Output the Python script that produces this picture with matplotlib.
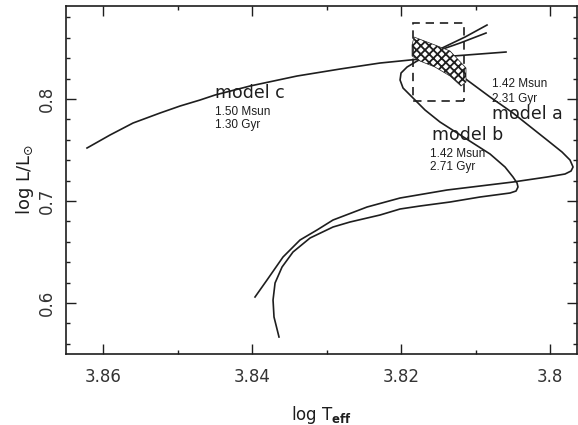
import matplotlib
matplotlib.use("Agg")
import matplotlib.pyplot as plt
from matplotlib.ticker import MultipleLocator
from matplotlib.patches import Polygon, Rectangle

# ---- data (log Teff, log L/Lsun) ----
model_a_logT = [3.83960, 3.83799, 3.83584, 3.83356, 3.83128, 3.82913, 3.82456, 3.82013, 3.81383,
                3.80497, 3.80040, 3.79799, 3.79718, 3.79691, 3.79732, 3.79839, 3.80040,
                3.80497, 3.80805, 3.81168, 3.81409, 3.81584, 3.81638, 3.81597, 3.81477,
                3.81208, 3.80859]
model_a_logL = [0.60588, 0.62255, 0.64510, 0.66176, 0.67157, 0.68137, 0.69412, 0.70294, 0.71078,
                0.71863, 0.72353, 0.72647, 0.72941, 0.73333, 0.74020, 0.74804, 0.75980,
                0.78627, 0.80196, 0.82157, 0.83333, 0.84118, 0.84412, 0.84608, 0.84804,
                0.85490, 0.86471]

model_b_logT = [3.83638, 3.83705, 3.83718, 3.83691, 3.83597, 3.83450, 3.83221, 3.82913,
                3.82685, 3.82282, 3.82013, 3.81745, 3.81342, 3.80940, 3.80537, 3.80456,
                3.80430, 3.80443, 3.80497, 3.80604, 3.80805, 3.81141, 3.81477, 3.81678,
                3.81879, 3.81973, 3.82013, 3.82000, 3.81919, 3.81785, 3.81477, 3.81141,
                3.80846]
model_b_logL = [0.56667, 0.58627, 0.60294, 0.61961, 0.63529, 0.65000, 0.66373, 0.67451,
                0.67941, 0.68627, 0.69216, 0.69510, 0.69902, 0.70392, 0.70784, 0.70980,
                0.71373, 0.71765, 0.72353, 0.73333, 0.74608, 0.76176, 0.77745, 0.78922,
                0.80392, 0.81078, 0.81863, 0.82549, 0.83137, 0.83725, 0.84902, 0.86078,
                0.87255]

model_c_logT = [3.86215, 3.85906, 3.85597, 3.85235, 3.84966, 3.84698, 3.84497, 3.84027,
                3.83396, 3.82819, 3.82282, 3.81477, 3.80591]
model_c_logL = [0.75196, 0.76471, 0.77647, 0.78627, 0.79314, 0.79902, 0.80392, 0.81275,
                0.82255, 0.82941, 0.83529, 0.84118, 0.84608]

# observational error region (hatched) and error box
region_logT = [3.81826, 3.81544, 3.81342, 3.81128, 3.81128, 3.81195, 3.81342, 3.81544,
               3.81745, 3.81852, 3.81852]
region_logL = [0.86078, 0.85294, 0.84706, 0.83039, 0.81667, 0.81275, 0.82255, 0.83137,
               0.83725, 0.84216, 0.85294]
box_logT = [3.8116, 3.8184]
box_logL = [0.798, 0.8745]

labels = [
    ("model c", 3.84497, 0.8059, 12.5), ("1.50 Msun", 3.84497, 0.7873, 8.5), ("1.30 Gyr", 3.84497, 0.7745, 8.5),
    ("model b", 3.81584, 0.7647, 12.5), ("1.42 Msun", 3.81611, 0.7461, 8.5), ("2.71 Gyr", 3.81611, 0.7333, 8.5),
    ("model a", 3.80779, 0.7850, 12.5), ("1.42 Msun", 3.80779, 0.8147, 8.5), ("2.31 Gyr", 3.80779, 0.8005, 8.5),
]

xticks = [3.86, 3.84, 3.82, 3.80]
xtick_labels = ["3.86", "3.84", "3.82", "3.8"]
yticks = [0.6, 0.7, 0.8]
ytick_labels = ["0.6", "0.7", "0.8"]

# ---- figure ----
ink = "#1e1e1e"
fig = plt.figure(figsize=(5.78, 4.25), dpi=100)
ax = fig.add_axes([66 / 578, 1 - 354 / 425, (577 - 66) / 578, (354 - 6) / 425])

for xs, ys in [(model_a_logT, model_a_logL), (model_b_logT, model_b_logL), (model_c_logT, model_c_logL)]:
    ax.plot(xs, ys, color=ink, lw=1.2, solid_joinstyle="round")

plt.rcParams["hatch.linewidth"] = 1.3
poly = Polygon(list(zip(region_logT, region_logL)), closed=True, facecolor="white",
               edgecolor=ink, hatch="xxxx", lw=0.5, zorder=3)
ax.add_patch(poly)
rect = Rectangle((box_logT[0], box_logL[0]), box_logT[1] - box_logT[0], box_logL[1] - box_logL[0],
                 fill=False, edgecolor=ink, lw=1.2, ls=(0, (5, 3.5)), zorder=4)
ax.add_patch(rect)

for txt, x, y, fs in labels:
    fam = "DejaVu Sans" if txt.startswith("model") else "Liberation Sans"
    ax.text(x, y, txt, ha="left", va="center", fontsize=fs, family=fam, color=ink, zorder=5)

ax.set_xlim(3.86497, 3.79638)
ax.set_ylim(0.55, 0.8912)
ax.set_xticks(xticks)
ax.set_xticklabels(xtick_labels)
ax.set_yticks(yticks)
ax.set_yticklabels(ytick_labels, rotation=90, va="center")
ax.xaxis.set_minor_locator(MultipleLocator(0.01))
ax.yaxis.set_minor_locator(MultipleLocator(0.02))
ax.tick_params(which="both", direction="in", top=True, right=True, color=ink, width=1.0)
ax.tick_params(which="major", length=7)
ax.tick_params(which="minor", length=3)
ax.tick_params(axis="x", which="major", labelsize=12, pad=10, labelcolor="#333333")
ax.tick_params(axis="y", which="major", labelsize=12, pad=7, labelcolor="#333333")
for s in ax.spines.values():
    s.set_color(ink)
    s.set_linewidth(1.2)

ax.set_xlabel(r"log T$_{\mathbf{eff}}$", fontsize=12, color=ink, labelpad=13)
ax.set_ylabel(r"log L/L$_{\odot}$", fontsize=13, color=ink, labelpad=2)

fig.savefig("out.png", dpi=100)
